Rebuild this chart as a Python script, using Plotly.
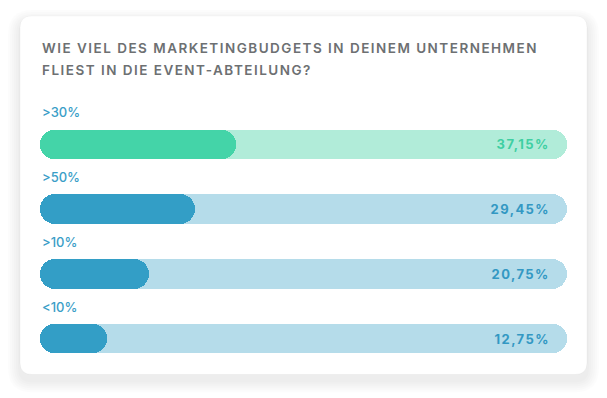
import plotly.graph_objects as go

categories = [">30%", ">50%", ">10%", "<10%"]
values = [37.15, 29.45, 20.75, 12.75]
value_labels = ["37,15%", "29,45%", "20,75%", "12,75%"]
track_max = 100
title_lines = ["WIE VIEL DES MARKETINGBUDGETS IN DEINEM UNTERNEHMEN",
               "FLIEST IN DIE EVENT-ABTEILUNG?"]

fill_colors = ["#44d4a8", "#339ec6", "#339ec6", "#339ec6"]
track_colors = ["#b1ecd9", "#b5dcea", "#b5dcea", "#b5dcea"]
text_colors = ["#3fcfa2", "#3398c3", "#3398c3", "#3398c3"]

W, H = 607, 398
L, R = 40, 40
T, B = 111.5, 26.5
pw, ph = W - L - R, H - T - B

VAL_LS = 1.4   # letter spacing of value labels (px)
TITLE_LS = 1.48

fig = go.Figure()
BW = 29.5 / 65
RAD = 15


def pill(vals, colors, name):
    # a bar drawn from its end back to 0 with an explicit base gets both ends rounded
    fig.add_trace(go.Bar(
        y=categories, x=[-v for v in vals], base=list(vals),
        orientation="h", width=BW,
        marker=dict(color=colors, cornerradius=RAD, line=dict(width=0)),
        hoverinfo="skip", showlegend=False, name=name))


pill([track_max] * len(values), track_colors, "track")
pill(values, fill_colors, "value")

# category labels
for c in categories:
    fig.add_annotation(x=0, y=c, xref="x", yref="y", text=c, showarrow=False,
                       xanchor="left", yanchor="middle", yshift=32, align="left",
                       font=dict(family="Inter", size=13, weight=500, color="#3a9ec7"))
# value labels
for c, lab, col in zip(categories, value_labels, text_colors):
    fig.add_annotation(x=track_max, y=c, xref="x", yref="y", text=lab,
                       showarrow=False, xanchor="right", yanchor="middle", align="right",
                       xshift=-16 + VAL_LS,
                       font=dict(family="Inter", size=13, weight=700, color=col))


def py(pix):
    return 1 - (pix - T) / ph


def px(pix):
    return (pix - L) / pw


# title
for i, line in enumerate(title_lines):
    fig.add_annotation(x=px(40), y=py(47 + 22 * i), xref="paper", yref="paper",
                       text=line, showarrow=False, xanchor="left", align="left",
                       yanchor="middle",
                       font=dict(family="Inter", size=13.5, weight=600, color="#6d7072"))


# card with shadow
def rrect(x0, y0, x1, y1, r):
    X0, X1 = px(x0), px(x1)
    Y0, Y1 = py(y0), py(y1)
    rx, ry = r / pw, r / ph
    return (f"M{X0+rx},{Y0} L{X1-rx},{Y0} Q{X1},{Y0} {X1},{Y0-ry} "
            f"L{X1},{Y1+ry} Q{X1},{Y1} {X1-rx},{Y1} L{X0+rx},{Y1} "
            f"Q{X0},{Y1} {X0},{Y1+ry} L{X0},{Y0-ry} Q{X0},{Y0} {X0+rx},{Y0} Z")


for k in range(12, 0, -2):
    fig.add_shape(type="path", xref="paper", yref="paper",
                  path=rrect(20 - k, 15 - k + 6, 587 + k, 375 + k + 6, 12 + k),
                  fillcolor="rgba(0,0,0,0.010)", line=dict(width=0), layer="below")
fig.add_shape(type="path", xref="paper", yref="paper", path=rrect(20, 15, 587, 375, 12),
              fillcolor="white", line=dict(color="rgba(0,0,0,0.035)", width=1), layer="below")

fig.update_layout(
    width=W, height=H, margin=dict(l=L, r=R, t=T, b=B),
    paper_bgcolor="white", plot_bgcolor="rgba(0,0,0,0)",
    barmode="overlay", bargap=0,
    xaxis=dict(range=[0, track_max], visible=False, fixedrange=True),
    yaxis=dict(type="category", categoryorder="array", categoryarray=categories,
               range=[len(categories) - 0.5, -0.5], visible=False, fixedrange=True),
    showlegend=False,
)

post = f"""
document.body.style.margin = '0';
var titles = {title_lines!r};
var vals = {value_labels!r};
document.querySelectorAll('.annotation-text').forEach(function(t) {{
  var s = t.textContent;
  if (titles.indexOf(s) >= 0) t.style.letterSpacing = '{TITLE_LS}px';
  if (vals.indexOf(s) >= 0) t.style.letterSpacing = '{VAL_LS}px';
}});
"""

fig.write_html("out.html", config={"displayModeBar": False}, post_script=post)
